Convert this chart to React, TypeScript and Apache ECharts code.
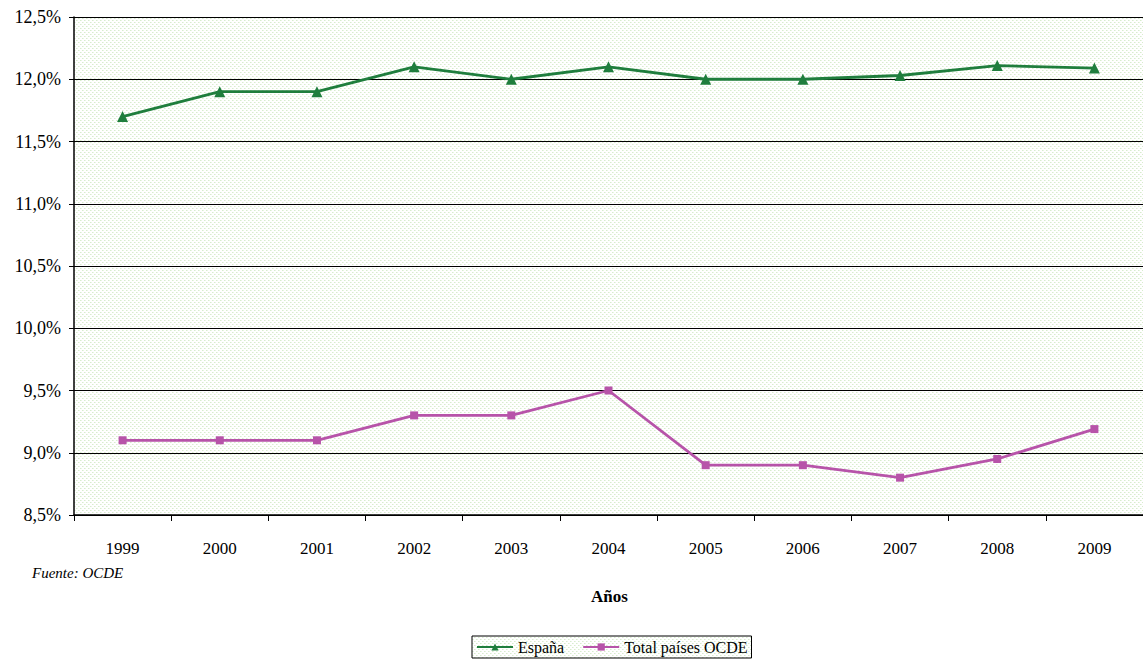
import React, { useEffect, useRef } from "react";
import * as echarts from "echarts";

const years = ["1999", "2000", "2001", "2002", "2003", "2004", "2005", "2006", "2007", "2008", "2009"];
const espana = [11.7, 11.9, 11.9, 12.1, 12.0, 12.1, 12.0, 12.0, 12.03, 12.11, 12.09];
const ocde = [9.1, 9.1, 9.1, 9.3, 9.3, 9.5, 8.9, 8.9, 8.8, 8.95, 9.19];
const seriesNames = ["España", "Total países OCDE"];

function makePattern(): string {
  const c = document.createElement("canvas");
  c.width = 4;
  c.height = 4;
  const ctx = c.getContext("2d")!;
  ctx.fillStyle = "#ffffff";
  ctx.fillRect(0, 0, 4, 4);
  ctx.fillStyle = "#d8ecce";
  ctx.fillRect(0, 0, 1, 1);
  ctx.fillRect(2, 2, 1, 1);
  ctx.fillStyle = "#eaf5e4";
  ctx.fillRect(1, 0, 1, 1);
  ctx.fillRect(3, 2, 1, 1);
  return c.toDataURL();
}

export default function App() {
  const ref = useRef<HTMLDivElement>(null);
  useEffect(() => {
    if (!ref.current) return;
    const chart = echarts.init(ref.current, null, { renderer: "svg" });
    const pat = { image: makePattern(), repeat: "repeat" };
    const font = "Liberation Serif, DejaVu Serif, Times New Roman, serif";
    chart.setOption({
      animation: false,
      textStyle: { fontFamily: font },
      grid: {
        left: 74,
        top: 17,
        right: -1,
        bottom: 146,
        show: true,
        backgroundColor: pat as any,
        borderWidth: 0,
      },
      xAxis: {
        type: "category",
        data: years,
        boundaryGap: true,
        axisLine: { lineStyle: { color: "#000", width: 1.5 } },
        axisTick: { show: true, length: 6, lineStyle: { color: "#000" } },
        axisLabel: { color: "#000", fontSize: 17, margin: 25, fontFamily: font },
      },
      yAxis: {
        type: "value",
        min: 8.5,
        max: 12.5,
        interval: 0.5,
        axisLine: { show: true, lineStyle: { color: "#000", width: 1.5 } },
        axisTick: { show: true, length: 5, lineStyle: { color: "#000" } },
        axisLabel: {
          color: "#000",
          fontSize: 18,
          margin: 13,
          fontFamily: font,
          formatter: (v: number) => v.toFixed(1).replace(".", ",") + "%",
        },
        splitLine: { show: true, lineStyle: { color: "#000", width: 1 } },
      },
      legend: {
        data: seriesNames,
        bottom: 3,
        left: 472,
        borderColor: "#000",
        borderWidth: 1,
        backgroundColor: pat as any,
        padding: [3, 4],
        itemGap: 18,
        itemWidth: 36,
        itemHeight: 9,
        textStyle: { color: "#000", fontSize: 16, fontFamily: font },
      },
      graphic: [
        {
          type: "text",
          left: 32,
          top: 565,
          style: { text: "Fuente: OCDE", fontStyle: "italic", fontSize: 15, fontFamily: font, fill: "#000" },
        },
        {
          type: "text",
          left: 591,
          top: 588,
          style: { text: "Años", fontWeight: "bold", fontSize: 17, fontFamily: font, fill: "#000" },
        },
      ],
      series: [
        {
          name: seriesNames[0],
          type: "line",
          data: espana,
          symbol: "triangle",
          symbolSize: 11,
          lineStyle: { color: "#1f7e3d", width: 2.8 },
          itemStyle: { color: "#1f7e3d" },
        },
        {
          name: seriesNames[1],
          type: "line",
          data: ocde,
          symbol: "rect",
          symbolSize: 8,
          lineStyle: { color: "#b754a9", width: 2.8 },
          itemStyle: { color: "#b754a9" },
        },
      ],
    });
    return () => chart.dispose();
  }, []);
  return <div ref={ref} style={{ width: 1143, height: 661, position: "absolute", left: 0, top: 0 }} />;
}
